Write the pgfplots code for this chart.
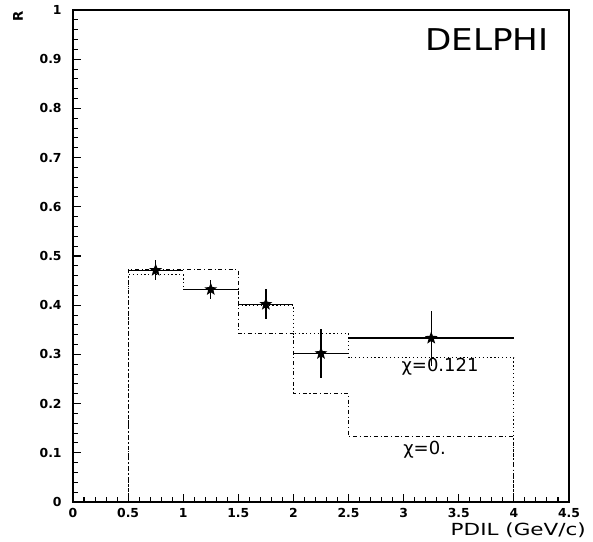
\documentclass[border=0pt]{standalone}
\usepackage{fontspec}
\setmainfont{DejaVu Sans}
\usepackage{pgfplots}
\pgfplotsset{compat=1.18}
\usepackage{pgfplotstable}

% filled five-pointed star
\pgfdeclareplotmark{fstar}{%
  \pgfpathmoveto{\pgfpointpolar{90}{\pgfplotmarksize}}%
  \pgfpathlineto{\pgfpointpolar{126}{0.42\pgfplotmarksize}}%
  \pgfpathlineto{\pgfpointpolar{162}{\pgfplotmarksize}}%
  \pgfpathlineto{\pgfpointpolar{198}{0.42\pgfplotmarksize}}%
  \pgfpathlineto{\pgfpointpolar{234}{\pgfplotmarksize}}%
  \pgfpathlineto{\pgfpointpolar{270}{0.42\pgfplotmarksize}}%
  \pgfpathlineto{\pgfpointpolar{306}{\pgfplotmarksize}}%
  \pgfpathlineto{\pgfpointpolar{342}{0.42\pgfplotmarksize}}%
  \pgfpathlineto{\pgfpointpolar{18}{\pgfplotmarksize}}%
  \pgfpathlineto{\pgfpointpolar{54}{0.42\pgfplotmarksize}}%
  \pgfpathclose\pgfusepathqfillstroke}

\pgfplotstableread{
x     y      ex    ey
0.75  0.471  0.25  0.020
1.25  0.432  0.25  0.019
1.75  0.402  0.25  0.030
2.25  0.302  0.25  0.050
3.25  0.333  0.75  0.056
}\datapts

\begin{document}
\begin{tikzpicture}
\begin{axis}[
  name=ax,
  scale only axis,
  width=372pt, height=369pt,
  xmin=0, xmax=4.5, ymin=0, ymax=1,
  xtick={0,0.5,...,4.5},
  ytick={0,0.1,...,1},
  minor x tick num=4,
  minor y tick num=4,
  tick align=inside,
  tick pos=left,
  major tick length=6pt,
  minor tick length=3.5pt,
  axis line style={line width=1pt},
  every tick/.style={black, line width=0.8pt},
  /pgf/number format/assume math mode=true,
  xticklabel={\textbf{\pgfmathprintnumber{\tick}}},
  yticklabel={\textbf{\pgfmathprintnumber{\tick}}},
  ticklabel style={font=\fontsize{9.3}{11}\selectfont},
  yticklabel shift=5pt,
  xticklabel shift=1.2pt,
  clip=false,
]
% chi = 0.121 (dotted)
\addplot[black, line width=0.9pt, dotted] coordinates {
  (0.5,0) (0.5,0.462) (1.0,0.462) (1.0,0.432) (1.5,0.432) (1.5,0.400)
  (2.0,0.400) (2.0,0.343) (2.5,0.343) (2.5,0.293) (4.0,0.293) (4.0,0)
};
% chi = 0 (dash-dot)
\addplot[black, line width=0.9pt, dash pattern=on 3pt off 2pt on 0.8pt off 2pt] coordinates {
  (0.5,0) (0.5,0.472) (1.5,0.472) (1.5,0.342) (2.0,0.342) (2.0,0.221)
  (2.5,0.221) (2.5,0.133) (4.0,0.133) (4.0,0)
};
% data
\addplot[black, line width=1pt, only marks, mark=fstar, mark size=3.6pt,
  error bars/.cd, x dir=both, x explicit, y dir=both, y explicit,
  error mark=none, error bar style={line width=1pt}]
  table[x=x, y=y, x error=ex, y error=ey] {\datapts};

\node[font=\fontsize{22.5}{26}\selectfont, xscale=1.14] at (axis cs:3.756,0.939) {DELPHI};
\node[font=\fontsize{13.5}{16}\selectfont] at (axis cs:3.33,0.275) {χ=0.121};
\node[font=\fontsize{13.5}{16}\selectfont] at (axis cs:3.19,0.107) {χ=0.};
\node[font=\fontsize{12.5}{15}\selectfont, xscale=1.29, inner sep=0pt] at (axis cs:4.04,-0.057) {PDIL (GeV/c)};
\node[font=\fontsize{10}{12}\selectfont\bfseries, rotate=90] at (axis cs:-0.498,0.988) {R};
\end{axis}
\pgfresetboundingbox
\path[use as bounding box] (-54.75pt,-30pt) rectangle (390pt,376.5pt);
\end{tikzpicture}
\end{document}
